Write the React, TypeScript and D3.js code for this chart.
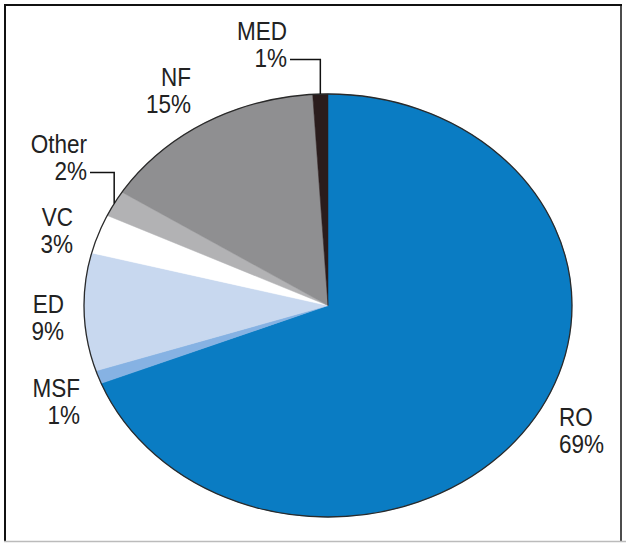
import React from "react";
import * as d3 from "d3";

const categories = ["RO", "MSF", "ED", "VC", "Other", "NF", "MED"];
const values = [69, 1, 9, 3, 2, 15, 1];
const colors = ["#0a7cc3", "#86b2e3", "#c8d8ef", "#ffffff", "#b2b2b4", "#8f8f91", "#2a1c1c"];

// label layout: anchor x, first baseline y, text-anchor, leader?
const labelLayout: Record<string, { x: number; y: number; anchor: string; leader?: boolean }> = {
  MED: { x: 287, y: 40, anchor: "end", leader: true },
  NF: { x: 191, y: 86, anchor: "end" },
  Other: { x: 87, y: 153, anchor: "end", leader: true },
  VC: { x: 73, y: 226, anchor: "end" },
  ED: { x: 64, y: 313, anchor: "end" },
  MSF: { x: 80, y: 397, anchor: "end" },
  RO: { x: 559, y: 426, anchor: "start" },
};

const W = 626;
const H = 543;
const cx = 328;
const cy = 305.5;
const rx = 244;
const ry = 211.5;

export default function App() {
  const data = categories.map((c, i) => ({ name: c, value: values[i], color: colors[i] }));
  const pie = d3
    .pie<{ name: string; value: number; color: string }>()
    .sort(null)
    .value((d) => d.value)
    .startAngle(0)
    .endAngle(2 * Math.PI);
  const arcs = pie(data);
  const arc = d3.arc<d3.PieArcDatum<any>>().innerRadius(0).outerRadius(ry);
  const sx = rx / ry;
  const lineH = 27.5;

  return (
    <svg
      width={W}
      height={H}
      style={{ position: "absolute", left: 0, top: 0, background: "#fff" }}
      fontFamily="'Liberation Sans', Arial, sans-serif"
    >
      <rect x={0} y={0} width={W} height={H} fill="#fff" />
      {/* frame */}
      <line x1={4} y1={5} x2={622} y2={5} stroke="#111" strokeWidth={2} />
      <line x1={5} y1={4} x2={5} y2={541} stroke="#111" strokeWidth={2} />
      <line x1={621} y1={4} x2={621} y2={541} stroke="#111" strokeWidth={1.5} />
      <line x1={4} y1={541.5} x2={626} y2={541.5} stroke="#bbb" strokeWidth={1.5} />

      <g transform={`translate(${cx},${cy}) scale(${sx},1)`}>
        {arcs.map((a, i) => (
          <path key={i} d={arc(a) || ""} fill={a.data.color} stroke={a.data.color} strokeWidth={0.5} vectorEffect="non-scaling-stroke" />
        ))}
        <ellipse cx={0} cy={0} rx={ry} ry={ry} fill="none" stroke="#2a2a2a" strokeWidth={1.3} vectorEffect="non-scaling-stroke" />
      </g>

      {arcs.map((a, i) => {
        const L = labelLayout[a.data.name];
        const mid = (a.startAngle + a.endAngle) / 2;
        const ex = cx + rx * Math.sin(mid);
        const ey = cy - ry * Math.cos(mid);
        const pct = `${a.data.value}%`;
        const ly = L.y + lineH - 8;
        return (
          <g key={i}>
            <g transform={`translate(${L.x},${L.y}) scale(0.9,1)`}>
              <text x={0} y={0} textAnchor={L.anchor} fontSize={25} fill="#222">
                {a.data.name}
              </text>
              <text x={0} y={lineH} textAnchor={L.anchor} fontSize={25} fill="#222">
                {pct}
              </text>
            </g>
            {L.leader && (
              <polyline
                points={`${L.x + 3},${ly} ${ex},${ly} ${ex},${ey}`}
                fill="none"
                stroke="#111"
                strokeWidth={1.5}
              />
            )}
          </g>
        );
      })}
    </svg>
  );
}
